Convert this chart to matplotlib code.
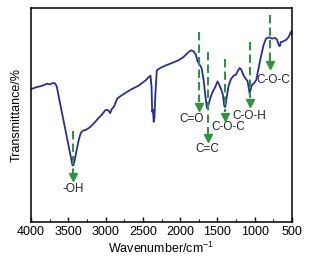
import matplotlib
matplotlib.use("Agg")
import matplotlib.pyplot as plt
from matplotlib.ticker import MultipleLocator

plt.rcParams['font.family'] = ['Liberation Sans', 'DejaVu Sans']

# FTIR spectrum (wavenumber in cm-1, transmittance in arbitrary units)
wavenumber = [4000, 3969, 3924, 3879, 3834, 3790, 3745, 3709, 3678, 3655, 3633, 3602,
              3566, 3530, 3494, 3467, 3445, 3432, 3414, 3387, 3360, 3333, 3306, 3262,
              3208, 3154, 3096, 3051, 3006, 2984, 2962, 2939, 2917, 2886, 2859, 2841,
              2805, 2738, 2648, 2559, 2469, 2411, 2398, 2384, 2375, 2365, 2355, 2345,
              2335, 2320, 2313, 2268, 2201, 2111, 2022, 1955, 1901, 1856, 1820, 1789,
              1767, 1740, 1713, 1686, 1664, 1641, 1623, 1597, 1561, 1530, 1499, 1476,
              1449, 1427, 1409, 1396, 1378, 1350, 1319, 1283, 1252, 1230, 1203, 1180,
              1149, 1118, 1095, 1077, 1068, 1055, 1037, 1006, 979, 948, 916, 880, 849,
              813, 769, 724, 702, 679, 666, 648, 612, 576, 545, 522, 504, 500]
transmittance = [398, 400, 404, 406, 409, 414, 412, 416, 415, 406, 381, 346,
                 306, 266, 226, 196, 171, 169, 186, 216, 246, 266, 273, 276,
                 284, 296, 311, 321, 334, 336, 334, 326, 338, 346, 361, 370,
                 376, 386, 398, 408, 423, 436, 438, 406, 330, 336, 300, 312,
                 370, 430, 454, 461, 468, 476, 484, 494, 506, 514, 511, 501,
                 481, 471, 461, 426, 381, 341, 348, 371, 391, 404, 421, 411,
                 396, 381, 348, 344, 371, 408, 428, 438, 441, 451, 461, 456,
                 438, 428, 421, 396, 384, 396, 411, 416, 426, 461, 496, 531, 549,
                 553, 549, 551, 546, 531, 526, 539, 541, 546, 554, 566, 571, 561]

# Peak assignments
peak_labels = ['-OH', 'C=O', 'C=C', 'C-O-C', 'C-O-H', 'C-O-C']
peak_wn = [3440, 1744, 1628, 1399, 1068, 800]
arrow_top = [271, 569, 508, 488, 539, 621]
arrow_tip = [126, 336, 241, 306, 348, 461]
label_wn = [3430, 1843, 1632, 1359, 1068, 752]
label_y = [98, 308, 219, 283, 318, 426]

fig = plt.figure(figsize=(3.11, 2.63), dpi=100)
ax = fig.add_axes([0.0997, 0.156, 0.8393, 0.814])

ax.plot(wavenumber, transmittance, color='#2a2e96', lw=1.3)

green = '#2e9440'
for lab, x, yt, yb, lx, ly in zip(peak_labels, peak_wn, arrow_top, arrow_tip,
                                  label_wn, label_y):
    ax.plot([x, x], [yt, yb + 22], color=green, lw=1.5, dashes=(4, 2))
    ax.plot([x], [yb + 9], marker='v', color=green, markersize=5.5, mec=green)
    ax.text(lx, ly, lab, fontsize=8.5, ha='center', va='center', color='#222222')

ax.set_xlim(4000, 500)
ax.set_ylim(0, 641)
ax.xaxis.set_major_locator(MultipleLocator(500))
ax.xaxis.set_minor_locator(MultipleLocator(250))
ax.set_yticks([])
ax.tick_params(axis='x', which='major', direction='in', length=3.5, width=1,
               labelsize=9, pad=3, top=False)
ax.tick_params(axis='x', which='minor', direction='in', length=2, width=0.8, top=False)
for s in ax.spines.values():
    s.set_linewidth(1.1)
ax.set_xlabel('Wavenumber/cm$^{\\mathregular{-1}}$', fontsize=9, labelpad=2)
ax.set_ylabel('Transmittance/%', fontsize=9, labelpad=6)

fig.savefig('out.png', dpi=100)
